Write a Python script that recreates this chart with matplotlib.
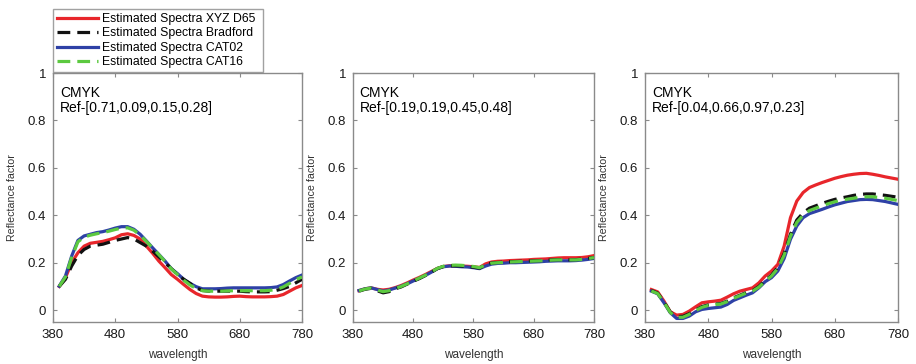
import numpy as np
import matplotlib
matplotlib.use("Agg")
import matplotlib.pyplot as plt

plt.rcParams['font.family'] = ['Liberation Sans', 'DejaVu Sans']

wavelength = list(range(390, 781, 10))

series_names = ["Estimated Spectra XYZ D65", "Estimated Spectra Bradford",
                "Estimated Spectra CAT02", "Estimated Spectra CAT16"]

panel_titles = ["Ref-[0.71,0.09,0.15,0.28]", "Ref-[0.19,0.19,0.45,0.48]",
                "Ref-[0.04,0.66,0.97,0.23]"]

# Panel 1
p1_xyz = [.100, .137, .200, .242, .270, .282, .286, .290, .297, .305, .318, .322, .315, .300, .270, .240,
          .207, .179, .150, .130, .108, .087, .070, .059, .056, .055, .055, .056, .058, .059, .057, .056,
          .056, .056, .057, .059, .066, .080, .094, .104]
p1_brad = [.100, .130, .186, .231, .256, .270, .274, .278, .286, .294, .300, .306, .300, .285, .270, .249,
           .225, .200, .175, .150, .130, .113, .094, .083, .080, .080, .080, .080, .080, .080, .078, .077,
           .077, .077, .078, .084, .091, .100, .115, .130]
p1_cat02 = [.101, .144, .228, .294, .313, .320, .327, .331, .338, .346, .352, .352, .341, .320, .292, .263,
            .235, .207, .175, .154, .130, .113, .099, .090, .090, .090, .091, .093, .094, .094, .094, .094,
            .094, .094, .095, .098, .108, .123, .137, .148]
p1_cat16 = [.100, .140, .222, .288, .308, .316, .322, .327, .333, .340, .346, .347, .337, .316, .290, .262,
            .234, .205, .174, .150, .126, .106, .091, .082, .080, .080, .080, .081, .082, .082, .082, .082,
            .082, .082, .084, .088, .098, .113, .128, .140]

# Panel 2
p2_xyz = [.082, .090, .094, .088, .085, .088, .095, .104, .115, .127, .138, .150, .163, .176, .184, .187,
          .187, .186, .185, .183, .180, .195, .203, .206, .207, .209, .210, .211, .212, .214, .215, .216,
          .218, .220, .221, .221, .221, .222, .225, .230]
p2_brad = [.080, .088, .092, .082, .073, .078, .090, .098, .110, .122, .133, .146, .160, .175, .184, .187,
           .187, .186, .184, .181, .177, .192, .199, .201, .202, .204, .205, .206, .207, .208, .209, .210,
           .212, .213, .213, .212, .213, .215, .218, .222]
p2_cat02 = [.083, .090, .094, .087, .080, .085, .093, .101, .111, .123, .134, .146, .160, .175, .183, .186,
            .185, .183, .182, .179, .175, .186, .194, .197, .198, .200, .200, .201, .202, .203, .204, .206,
            .207, .208, .208, .208, .209, .211, .214, .218]
p2_cat16 = [.081, .089, .093, .085, .078, .082, .091, .100, .111, .123, .135, .147, .161, .176, .185, .189,
            .190, .189, .187, .184, .179, .191, .198, .200, .201, .203, .204, .205, .206, .207, .208, .209,
            .211, .212, .212, .212, .212, .214, .217, .222]

# Panel 3
p3_xyz = [.087, .077, .038, -.007, -.021, -.018, -.004, .014, .031, .035, .038, .042, .055, .069, .080, .087,
          .094, .115, .144, .165, .193, .270, .390, .460, .496, .517, .528, .538, .547, .556, .563, .569,
          .573, .576, .577, .573, .568, .562, .557, .552]
p3_brad = [.083, .072, .035, -.008, -.027, -.026, -.015, .000, .015, .022, .025, .028, .038, .052, .063, .074,
           .082, .100, .125, .148, .180, .238, .320, .380, .410, .430, .440, .450, .459, .467, .473, .478,
           .484, .488, .490, .490, .487, .484, .480, .476]
p3_cat02 = [.080, .069, .031, -.011, -.035, -.035, -.025, -.007, .003, .007, .010, .013, .024, .041, .052, .063,
            .073, .094, .120, .137, .165, .218, .299, .355, .390, .407, .416, .425, .435, .444, .451, .458,
            .462, .466, .467, .466, .462, .458, .452, .446]
p3_cat16 = [.081, .070, .033, -.010, -.030, -.030, -.018, -.002, .012, .020, .023, .026, .036, .050, .061, .072,
            .080, .097, .122, .144, .176, .232, .312, .370, .400, .420, .430, .440, .449, .457, .463, .468,
            .472, .476, .478, .478, .475, .472, .467, .462]

panels = [(p1_xyz, p1_brad, p1_cat02, p1_cat16),
          (p2_xyz, p2_brad, p2_cat02, p2_cat16),
          (p3_xyz, p3_brad, p3_cat02, p3_cat16)]

xticks = [380, 480, 580, 680, 780]
yticks = [0, 0.2, 0.4, 0.6, 0.8, 1]
ytick_labels = ["0", "0.2", "0.4", "0.6", "0.8", "1"]

colors = ["#E8262B", "#111111", "#2E41A6", "#5CC940"]
styles = [dict(ls='-'), dict(ls=(0, (4, 2.2))), dict(ls='-'), dict(ls=(0, (4, 2.2)))]
zorders = [3, 5, 4, 6]

fig = plt.figure(figsize=(9.16, 3.64), dpi=100)
positions = [(53, 302), (353, 594), (645, 898)]
frame_col = "#8a8a8a"
handles = []
for i, (vals, (x0, x1)) in enumerate(zip(panels, positions)):
    ax = fig.add_axes([x0 / 916, 1 - 322 / 364, (x1 - x0) / 916, (322 - 73) / 364])
    for j, v in enumerate(vals):
        h, = ax.plot(wavelength, v, color=colors[j], lw=2.3, zorder=zorders[j],
                     label=series_names[j], **styles[j])
        if i == 0:
            handles.append(h)
    ax.set_xlim(380, 780)
    ax.set_ylim(-0.05, 1)
    ax.set_xticks(xticks)
    ax.set_yticks(yticks)
    ax.set_yticklabels(ytick_labels)
    ax.tick_params(direction='in', length=3, width=0.8, color=frame_col, top=True, right=True,
                   labelsize=9.5, labelcolor="#1a1a1a", pad=5)
    for s in ax.spines.values():
        s.set_color(frame_col)
        s.set_linewidth(1.0)
    ax.set_xlabel("wavelength", fontsize=8.5, color="#333333", labelpad=6)
    ax.set_ylabel("Reflectance factor", fontsize=7.7, color="#333333", labelpad=8)
    ax.text(0.028, 0.918, "CMYK", transform=ax.transAxes, fontsize=10, va='center', ha='left')
    ax.text(0.028, 0.858, panel_titles[i], transform=ax.transAxes, fontsize=10, va='center', ha='left')

leg = fig.legend(handles=handles, loc='lower left',
                 bbox_to_anchor=(53 / 916, 1 - 72 / 364, 210 / 916, 69 / 364),
                 mode='expand', borderaxespad=0, fontsize=8.8, handlelength=3.35,
                 handletextpad=0.35, labelspacing=0.2, fancybox=False, frameon=True,
                 borderpad=0.3)
leg.get_frame().set_edgecolor(frame_col)
leg.get_frame().set_linewidth(1.0)

fig.savefig("out.png", dpi=100)
